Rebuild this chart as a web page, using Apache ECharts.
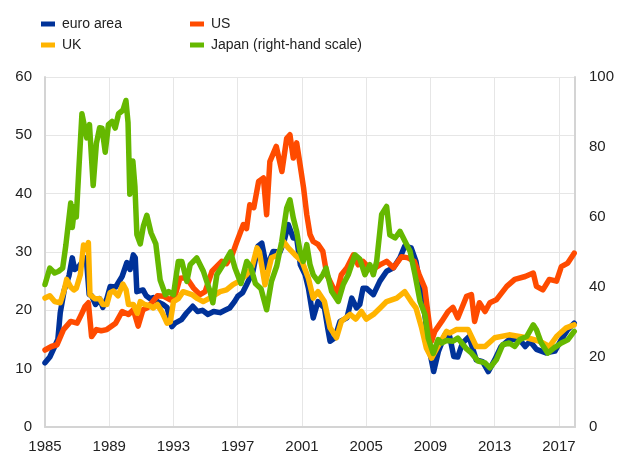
<!DOCTYPE html>
<html>
<head>
<meta charset="utf-8">
<script src="https://cdn.jsdelivr.net/npm/echarts@6/dist/echarts.min.js"></script>
<style>
  html, body { margin: 0; padding: 0; background: #fff; }
  #chart { width: 617px; height: 453px; }
</style>
</head>
<body>
<div id="chart"></div>
<script>
// [year, value] pairs
const euroArea = [[1985.0,11.0],[1985.3,12],[1985.55,13.5],[1985.8,15],[1985.95,19.6],[1986.2,23.5],[1986.35,24.7],[1986.5,26],[1986.7,29],[1986.85,27],[1987.1,27.5],[1987.5,29],[1987.6,28],[1987.75,22.7],[1987.9,22.5],[1988.15,21],[1988.4,22],[1988.6,20.5],[1988.85,22],[1989.06,24.1],[1989.4,24],[1989.8,25.8],[1990.1,28.2],[1990.3,27],[1990.5,29.5],[1990.62,29],[1990.72,23.2],[1991.1,23.5],[1991.3,22.5],[1991.55,22],[1991.75,22.2],[1992.0,21.5],[1992.35,21],[1992.6,20.5],[1992.9,17.2],[1993.1,17.8],[1993.5,18.4],[1993.8,19.5],[1994.2,20.7],[1994.5,19.8],[1994.8,20],[1995.15,19.3],[1995.5,19.8],[1995.9,19.6],[1996.2,20],[1996.5,20.4],[1996.8,21.5],[1997.0,22.4],[1997.3,23],[1997.55,24.4],[1997.95,26.7],[1998.26,31],[1998.5,31.5],[1998.8,27.3],[1999.2,30.1],[1999.63,30],[1999.9,32],[2000.15,34.7],[2000.46,32.4],[2000.67,32.4],[2000.9,27.8],[2001.2,26.1],[2001.4,23.8],[2001.7,18.7],[2002.0,21.5],[2002.4,20.4],[2002.6,17],[2002.75,14.7],[2003.05,15.3],[2003.37,18.1],[2003.8,18.7],[2004.1,22.1],[2004.4,20.4],[2004.6,21],[2004.8,23.8],[2005.0,23.8],[2005.45,22.7],[2005.85,25],[2006.27,26.7],[2006.7,27.3],[2007.1,29],[2007.4,31],[2007.8,30.7],[2008.1,28.4],[2008.3,25],[2008.65,19.3],[2008.95,13],[2009.2,9.5],[2009.5,13],[2009.9,15.8],[2010.2,15.5],[2010.45,12.1],[2010.7,12],[2011.0,14.4],[2011.4,15.5],[2011.85,11.5],[2012.25,11.2],[2012.6,9.5],[2013.0,11.5],[2013.4,13.8],[2013.9,15],[2014.55,15],[2014.9,13.8],[2015.2,14.7],[2015.6,13.3],[2016.2,12.7],[2016.75,13],[2017.15,15],[2017.55,16.7],[2017.95,17.8]];

const us = [[1985.0,13.2],[1985.4,13.8],[1985.75,14.1],[1986.15,16.7],[1986.6,18.1],[1987.0,17.8],[1987.3,19.5],[1987.5,20.7],[1987.7,21.3],[1987.9,15.5],[1988.2,16.7],[1988.5,16.5],[1988.85,16.7],[1989.4,17.8],[1989.8,19.8],[1990.2,19.3],[1990.5,20.1],[1990.8,17.3],[1991.1,20.1],[1991.4,20.5],[1991.65,21.3],[1992.0,22.5],[1992.4,22.4],[1992.8,21.8],[1993.1,22.5],[1993.4,25.5],[1993.8,25.6],[1994.25,23.8],[1994.65,22.7],[1994.97,23.2],[1995.4,26.7],[1996.0,28.4],[1996.3,28],[1996.65,29.5],[1996.95,31.8],[1997.35,34.7],[1997.55,34],[1997.75,38.1],[1998.0,37.6],[1998.3,42.1],[1998.6,42.7],[1998.8,36.4],[1999.0,45.5],[1999.4,48.1],[1999.75,43.8],[2000.05,49.5],[2000.25,50.1],[2000.46,46.1],[2000.67,48.7],[2000.88,45],[2001.1,41],[2001.3,36.4],[2001.5,33],[2001.7,31.8],[2002.0,31.3],[2002.3,30.1],[2002.55,26.1],[2002.85,24.4],[2003.15,22.7],[2003.45,26.1],[2003.8,27.3],[2004.2,29.5],[2004.5,27.8],[2004.8,28.4],[2005.0,27.8],[2005.4,27],[2005.85,27.8],[2006.27,28.4],[2006.7,27.3],[2007.2,29.2],[2007.6,29],[2008.0,28.4],[2008.3,26.1],[2008.65,23.8],[2008.85,19.3],[2009.07,14.7],[2009.27,16.4],[2009.7,18.1],[2010.1,19.8],[2010.4,20.5],[2010.7,18.7],[2011.25,22.4],[2011.55,22.7],[2011.75,18.1],[2012.05,21.3],[2012.4,19.8],[2012.7,21.3],[2013.1,21.8],[2013.75,24.1],[2014.25,25.3],[2014.9,25.8],[2015.4,26.4],[2015.6,24.1],[2016.0,23.5],[2016.4,25.3],[2016.85,25],[2017.15,27.5],[2017.55,28.1],[2017.95,29.8]];

const uk = [[1985.0,22.1],[1985.3,22.5],[1985.6,21.5],[1985.95,21.3],[1986.2,23.5],[1986.35,25.3],[1986.6,24],[1986.8,23.5],[1986.95,23.8],[1987.2,26.1],[1987.4,31.2],[1987.55,30.5],[1987.7,31.6],[1987.8,22.7],[1988.1,22],[1988.4,22],[1988.6,21],[1988.85,21],[1989.05,23],[1989.27,23.3],[1989.55,22.5],[1989.85,24.5],[1990.05,23.5],[1990.2,21],[1990.5,21],[1990.75,19.5],[1990.93,21.5],[1991.2,21],[1991.5,20.8],[1991.75,20.4],[1992.0,21],[1992.3,19.6],[1992.6,17.8],[1992.8,18],[1993.0,21.5],[1993.3,22],[1993.6,23.2],[1994.15,22.7],[1994.5,22],[1994.85,21.5],[1995.2,22],[1995.5,22.5],[1995.9,23.2],[1996.3,23.5],[1996.7,24.4],[1997.1,25],[1997.55,26.1],[1997.9,27.5],[1998.2,30.7],[1998.35,30],[1998.7,24.4],[1999.1,29],[1999.5,29.5],[1999.85,31.8],[2000.15,30.7],[2000.57,29.5],[2001.0,28.4],[2001.4,25.5],[2001.7,22.1],[2002.0,23.2],[2002.4,21.5],[2002.75,17],[2003.15,15.3],[2003.45,18.1],[2004.0,19.3],[2004.35,18.5],[2004.7,19.8],[2005.0,18.5],[2005.45,19.3],[2005.9,20.5],[2006.27,21.5],[2006.9,22.1],[2007.4,23.2],[2007.8,21.5],[2008.1,20.4],[2008.45,17],[2008.75,13.5],[2009.07,11.8],[2009.4,13.5],[2010.0,16.4],[2010.2,16.1],[2010.6,16.7],[2011.35,16.7],[2011.85,13.8],[2012.4,13.8],[2013.0,15.3],[2013.9,15.8],[2015.0,15.3],[2015.8,14.7],[2016.4,13.8],[2016.85,15.5],[2017.45,17],[2017.95,17.5]];

// right-hand scale
const japan = [[1985.0,40.7],[1985.3,45.4],[1985.6,44],[1985.85,44.5],[1986.1,45.4],[1986.3,52],[1986.5,60],[1986.6,64],[1986.7,57],[1986.85,63],[1986.95,60],[1987.1,73],[1987.3,89.5],[1987.4,89.7],[1987.6,82.6],[1987.77,86.4],[1988.0,69],[1988.2,81],[1988.4,85.5],[1988.55,85.4],[1988.75,78.5],[1988.95,86.4],[1989.17,87.3],[1989.37,85.4],[1989.58,89.5],[1989.85,90.5],[1990.04,93.3],[1990.17,87],[1990.28,66.5],[1990.47,76],[1990.6,68.7],[1990.72,55],[1990.93,52.3],[1991.13,57.5],[1991.34,60.5],[1991.6,55.5],[1991.9,52.3],[1992.17,42],[1992.5,37.8],[1992.7,38.7],[1993.0,37.8],[1993.3,47.3],[1993.52,47.3],[1993.83,41.6],[1994.04,46.4],[1994.45,48.3],[1994.86,44.5],[1995.28,38.7],[1995.45,35.5],[1995.7,43.5],[1996.1,46.4],[1996.55,50],[1996.83,45.4],[1997.2,41],[1997.56,47.3],[1997.8,45.9],[1998.1,41],[1998.45,39.5],[1998.8,33.5],[1999.1,41.6],[1999.43,46],[1999.74,53],[2000.05,62.6],[2000.25,64.9],[2000.46,59.7],[2000.67,55.9],[2000.88,50.2],[2001.08,47.3],[2001.3,52.1],[2001.5,46.4],[2001.7,43.5],[2002.0,41.6],[2002.3,43.5],[2002.5,45.4],[2002.85,38.7],[2003.26,35.9],[2003.57,40.7],[2003.88,43.5],[2004.3,49.2],[2004.6,48],[2004.92,43.5],[2005.23,46.4],[2005.44,43.5],[2005.65,47.3],[2005.96,60.7],[2006.27,63],[2006.47,54.9],[2006.8,54],[2007.1,55.9],[2007.42,53],[2007.73,50.2],[2008.04,43.5],[2008.35,35.9],[2008.66,32.1],[2008.86,25.4],[2009.17,21],[2009.48,25],[2009.7,24],[2010.0,24.7],[2010.4,24.5],[2010.7,25.4],[2011.25,22.3],[2011.56,21.1],[2011.97,18.8],[2012.4,18.3],[2012.7,16.9],[2013.1,19.2],[2013.5,23.5],[2013.9,24],[2014.25,23],[2014.55,24.9],[2015.0,25.9],[2015.4,29.2],[2015.6,27.8],[2015.9,24],[2016.3,21.1],[2016.7,22.6],[2017.15,24],[2017.55,24.9],[2017.95,27.3]];

const seriesNames = ['euro area', 'US', 'UK', 'Japan (right-hand scale)'];
const seriesColors = ['#003299', '#FF4B00', '#FFB400', '#65B800'];
const firstYear = 1985, lastYear = 2018;

const font = 'Liberation Sans, Arial, sans-serif';
const chart = echarts.init(document.getElementById('chart'));

const legendBase = {
  orient: 'vertical',
  top: 12,
  itemWidth: 14,
  itemHeight: 5,
  itemGap: 7,
  icon: 'rect',
  textStyle: { fontFamily: font, fontSize: 14, color: '#222', padding: [0, 0, 0, 2] }
};

const mkLine = (name, idx, data, axis) => ({
  name: name,
  type: 'line',
  yAxisIndex: axis,
  data: data,
  showSymbol: false,
  symbol: 'none',
  smooth: false,
  animation: false,
  lineStyle: { width: 5.5, color: seriesColors[idx], cap: 'round', join: 'round' },
  itemStyle: { color: seriesColors[idx] }
});

chart.setOption({
  animation: false,
  legend: [
    Object.assign({}, legendBase, { left: 36, data: [seriesNames[0], seriesNames[2]] }),
    Object.assign({}, legendBase, { left: 185, data: [seriesNames[1], seriesNames[3]] })
  ],
  grid: { left: 45, right: 42, top: 77, bottom: 26, containLabel: false, outerBoundsMode: 'none' },
  xAxis: {
    type: 'value',
    min: firstYear,
    max: lastYear,
    interval: 4,
    axisLine: { lineStyle: { color: '#d4d4d4', width: 2 } },
    axisTick: { show: false },
    axisLabel: {
      fontFamily: font, fontSize: 15, color: '#222', margin: 12,
      formatter: v => ((v - firstYear) % 4 === 0 ? String(v) : '')
    },
    splitLine: { show: true, lineStyle: { color: '#e6e6e6', width: 1 } }
  },
  yAxis: [
    {
      type: 'value', min: 0, max: 60, interval: 10,
      axisLine: { show: true, lineStyle: { color: '#d4d4d4', width: 2 } },
      axisTick: { show: false },
      axisLabel: { fontFamily: font, fontSize: 15, color: '#222', margin: 13 },
      splitLine: { show: true, lineStyle: { color: '#e6e6e6', width: 1 } }
    },
    {
      type: 'value', min: 0, max: 100, interval: 20, position: 'right',
      axisLine: { show: true, lineStyle: { color: '#d4d4d4', width: 2 } },
      axisTick: { show: false },
      axisLabel: { fontFamily: font, fontSize: 15, color: '#222', margin: 14 },
      splitLine: { show: false }
    }
  ],
  series: [
    mkLine(seriesNames[0], 0, euroArea, 0),
    mkLine(seriesNames[1], 1, us, 0),
    mkLine(seriesNames[2], 2, uk, 0),
    mkLine(seriesNames[3], 3, japan, 1)
  ]
});
</script>
</body>
</html>
